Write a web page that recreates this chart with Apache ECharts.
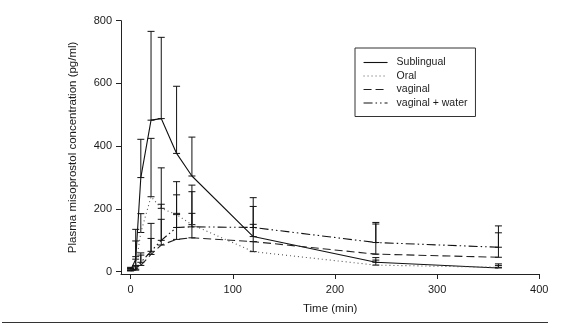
<!DOCTYPE html>
<html>
<head>
<meta charset="utf-8">
<script src="https://cdn.jsdelivr.net/npm/echarts@6/dist/echarts.min.js"></script>
<style>
html,body{margin:0;padding:0;background:#fff;}
#chart{width:572px;height:326px;}
</style>
</head>
<body>
<div id="chart"></div>
<script>
// ---- data ----
var times = [0, 5, 10, 20, 30, 45, 60, 120, 240, 360];
var seriesNames = ['Sublingual', 'Oral', 'vaginal', 'vaginal + water'];
var sublingual      = [5, 40, 300, 483, 488, 377, 305, 112, 30, 12];
var sublingualUpper = [14, 135, 422, 766, 747, 591, 429, 236, 45, 25];
var oral            = [4, 20, 125, 239, 202, 182, 150, 64, 21, 14];
var oralUpper       = [12, 98, 185, 425, 331, 287, 255, 96, 37, 20];
var vaginal         = [3, 5, 20, 55, 85, 103, 108, 96, 56, 46];
var vaginalUpper    = [8, 16, 53, 106, 167, 186, 186, 151, 152, 124];
var water           = [3, 8, 30, 65, 100, 141, 143, 141, 93, 78];
var waterUpper      = [10, 48, 60, 154, 215, 245, 276, 208, 157, 146];
var xTicks = [0, 100, 200, 300, 400];
var yTicks = [0, 200, 400, 600, 800];

var means = [sublingual, oral, vaginal, water];
var uppers = [sublingualUpper, oralUpper, vaginalUpper, waterUpper];
var dashes = ['solid', [1, 3], [8, 4], [9, 3, 1.5, 3, 1.5, 3]];
var colors = ['#111', '#555', '#222', '#111'];

function pairs(vals) {
  return times.map(function (t, i) { return [t, vals[i]]; });
}
function barData(vals, ups) {
  return times.map(function (t, i) { return [t, vals[i], ups[i]]; });
}

var series = [];
seriesNames.forEach(function (name, k) {
  series.push({
    name: name,
    type: 'line',
    data: pairs(means[k]),
    symbol: 'none',
    animation: false,
    lineStyle: { color: colors[k], width: 1.1, type: dashes[k] },
    itemStyle: { color: colors[k] },
    z: 3
  });
});
seriesNames.forEach(function (name, k) {
  series.push({
    type: 'custom',
    data: barData(means[k], uppers[k]),
    animation: false,
    silent: true,
    z: 2,
    renderItem: function (params, api) {
      var x = api.value(0);
      var p0 = api.coord([x, api.value(1)]);
      var p1 = api.coord([x, api.value(2)]);
      var hw = 3.5;
      var st = { stroke: '#111', lineWidth: 1 };
      return {
        type: 'group',
        children: [
          { type: 'line', shape: { x1: p0[0], y1: p0[1], x2: p1[0], y2: p1[1] }, style: st },
          { type: 'line', shape: { x1: p1[0] - hw, y1: p1[1], x2: p1[0] + hw, y2: p1[1] }, style: st },
          { type: 'line', shape: { x1: p0[0] - hw, y1: p0[1], x2: p0[0] + hw, y2: p0[1] }, style: st }
        ]
      };
    }
  });
});

var font = 'Liberation Sans, Arial, Helvetica, sans-serif';
var chart = echarts.init(document.getElementById('chart'), null, { renderer: 'canvas' });
chart.setOption({
  animation: false,
  backgroundColor: '#fff',
  grid: { left: 121, right: 32.7, top: 20.7, bottom: 52 },
  xAxis: {
    type: 'value', min: -9.4, max: 400,
    name: 'Time (min)', nameLocation: 'middle', nameGap: 29,
    nameTextStyle: { fontFamily: font, fontSize: 11.5, color: '#1a1a1a' },
    axisLine: { show: true, onZero: false, lineStyle: { color: '#222', width: 1 } },
    axisTick: { show: true, length: 5, customValues: xTicks, lineStyle: { color: '#222' } },
    axisLabel: { customValues: xTicks, margin: 10, fontFamily: font, fontSize: 11, color: '#1a1a1a' },
    splitLine: { show: false }
  },
  yAxis: {
    type: 'value', min: -7.3, max: 800,
    name: 'Plasma misoprostol concentration (pg/ml)', nameLocation: 'middle', nameGap: 42,
    nameTextStyle: { fontFamily: font, fontSize: 11.5, color: '#1a1a1a' },
    axisLine: { show: true, onZero: false, lineStyle: { color: '#222', width: 1 } },
    axisTick: { show: true, length: 5, customValues: yTicks, lineStyle: { color: '#222' } },
    axisLabel: { customValues: yTicks, margin: 9, fontFamily: font, fontSize: 11, color: '#1a1a1a' },
    splitLine: { show: false }
  },
  legend: {
    orient: 'vertical', left: 355, top: 48,
    data: seriesNames,
    itemWidth: 24, itemHeight: 10, itemGap: 2.5,
    padding: [9, 8, 8, 8],
    borderColor: '#333', borderWidth: 1,
    itemStyle: { color: 'transparent', borderWidth: 0, opacity: 0 },
    lineStyle: { width: 1.1 },
    textStyle: { fontFamily: font, fontSize: 10.5, color: '#1a1a1a', padding: [0, 0, 0, 4] }
  },
  graphic: [
    { type: 'line', shape: { x1: 2, y1: 322.5, x2: 548, y2: 322.5 }, style: { stroke: '#333', lineWidth: 1 } }
  ],
  series: series
});
</script>
</body>
</html>
